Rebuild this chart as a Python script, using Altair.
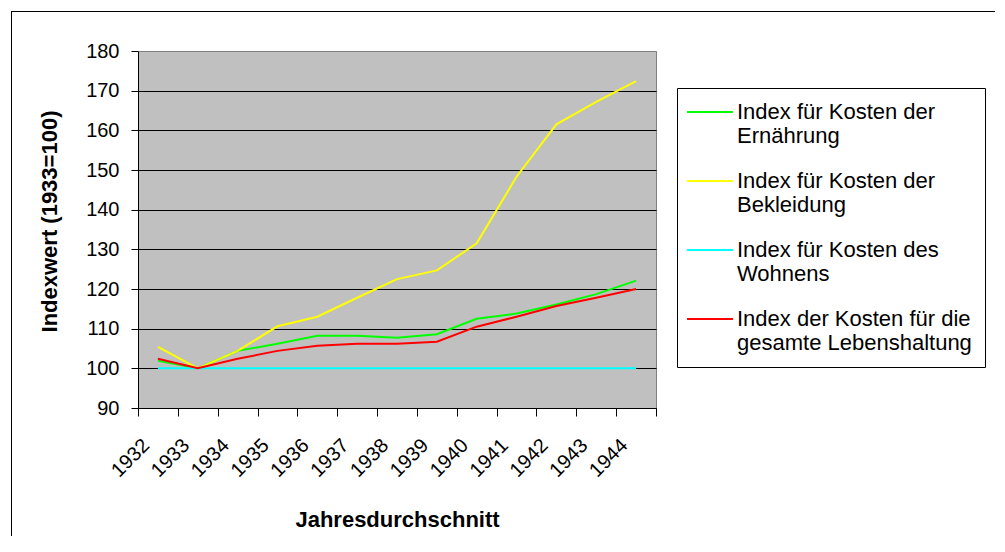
import altair as alt
import pandas as pd

years = ["1932", "1933", "1934", "1935", "1936", "1937", "1938",
         "1939", "1940", "1941", "1942", "1943", "1944"]

series_names = [
    "Index für Kosten der\nErnährung",
    "Index für Kosten der\nBekleidung",
    "Index für Kosten des\nWohnens",
    "Index der Kosten für die\ngesamte Lebenshaltung",
]
series_colors = ["#00FF00", "#FFFF00", "#00FFFF", "#FF0000"]

ernaehrung = [101.9, 100.0, 104.4, 106.2, 108.2, 108.2, 107.7, 108.6, 112.5, 113.8, 116.1, 118.7, 122.1]
bekleidung = [105.4, 100.0, 104.4, 110.6, 113.0, 117.8, 122.5, 124.7, 131.5, 148.3, 161.5, 167.2, 172.4]
wohnen = [100.0, 100.0, 100.0, 100.0, 100.0, 100.0, 100.0, 100.0, 100.0, 100.0, 100.0, 100.0, 100.0]
lebenshaltung = [102.4, 100.0, 102.4, 104.4, 105.7, 106.2, 106.2, 106.7, 110.5, 113.0, 115.7, 117.8, 120.0]

y_ticks = [90, 100, 110, 120, 130, 140, 150, 160, 170, 180]

rows = []
for name, vals in zip(series_names, [ernaehrung, bekleidung, wohnen, lebenshaltung]):
    for yr, v in zip(years, vals):
        rows.append({"Jahr": yr, "Serie": name, "Wert": v})
df = pd.DataFrame(rows)

FONT = "Liberation Sans"
W, H = 518, 357

one = pd.DataFrame({"k": [0]})
frame_left = alt.Chart(one).mark_rule(color="black", strokeWidth=1).encode(
    x=alt.value(-126.5), y=alt.value(-40), y2=alt.value(900)
)
frame_top = alt.Chart(one).mark_rule(color="black", strokeWidth=1).encode(
    y=alt.value(-39.5), x=alt.value(-127), x2=alt.value(1200)
)

lines = alt.Chart(df).mark_line(strokeWidth=2).encode(
    x=alt.X(
        "Jahr:O",
        bandPosition=0.5,
        sort=years,
        scale=alt.Scale(type="band", paddingInner=0, paddingOuter=0),
        axis=alt.Axis(
            title="Jahresdurchschnitt",
            labelAngle=-45,
            labelAlign="right",
            labelBaseline="middle",
            labelOffset=-12,
            labelPadding=26,
            tickBand="extent",
            tickSize=8,
            tickColor="black",
            domainColor="black",
            labelColor="black",
            labelFontSize=20,
            labelFont=FONT,
            titleFont=FONT,
            titleFontSize=22,
            titleFontWeight="bold",
            titleColor="black",
            titleX=W / 2,
            titleY=111,
            titleBaseline="middle",
            titleAlign="center",
            grid=False,
        ),
    ),
    y=alt.Y(
        "Wert:Q",
        scale=alt.Scale(domain=[90, 180], nice=False, zero=False),
        axis=alt.Axis(
            title="Indexwert (1933=100)",
            values=y_ticks,
            tickSize=7,
            tickColor="black",
            domainColor="black",
            labelColor="black",
            labelFontSize=20,
            labelFont=FONT,
            labelPadding=12,
            titleFont=FONT,
            titleFontSize=22,
            titleFontWeight="bold",
            titleColor="black",
            titleX=-89,
            titleY=170,
            titleAngle=270,
            titleBaseline="middle",
            titleAlign="center",
            grid=True,
            gridColor={"condition": {"test": "datum.value >= 180", "value": "#808080"}, "value": "#000000"},
            gridWidth=1,
        ),
    ),
    color=alt.Color(
        "Serie:N",
        sort=series_names,
        scale=alt.Scale(domain=series_names, range=series_colors),
        legend=alt.Legend(
            title=None,
            orient="none",
            legendX=539,
            legendY=37,
            direction="vertical",
            symbolType="M-4,0H4",
            symbolSize=132,
            symbolStrokeWidth=2,
            symbolOffset=9,
            labelExpr="split(datum.label, '\\n')",
            labelFont=FONT,
            labelFontSize=22,
            labelColor="black",
            labelOffset=16,
            labelLimit=500,
            padding=13,
            rowPadding=23,
            strokeColor="black",
            fillColor="white",
        ),
    ),
)

chart = alt.layer(frame_left, frame_top, lines).properties(
    width=W,
    height=H,
    autosize=alt.AutoSizeParams(type="none"),
    padding={"left": 130, "top": 43, "right": 339, "bottom": 128},
).configure(
    font=FONT,
    background="white",
).configure_view(
    fill="#C0C0C0",
    stroke="#808080",
    strokeWidth=1,
)

chart.save("out.html", embed_options={"renderer": "svg", "actions": False})
